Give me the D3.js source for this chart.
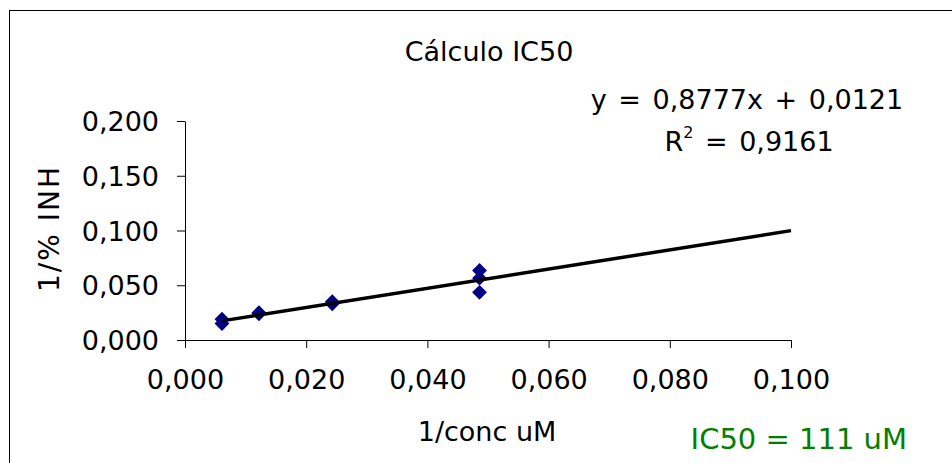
<!DOCTYPE html>
<html>
<head>
<meta charset="utf-8">
<script src="https://cdn.jsdelivr.net/npm/d3@7"></script>
<style>
  body { margin: 0; background: #fff; }
  svg text { font-family: "DejaVu Sans", Verdana, sans-serif; fill: #000; }
</style>
</head>
<body>
<div id="chart"></div>
<script>
// values
const concInv = [0.0061, 0.0061, 0.0122, 0.0122, 0.0243, 0.0243, 0.0486, 0.0486, 0.0486];
const inhInv  = [0.0150, 0.0190, 0.0240, 0.0250, 0.0330, 0.0350, 0.0635, 0.0565, 0.0435];
const xTicks = [0, 0.02, 0.04, 0.06, 0.08, 0.1];
const yTicks = [0, 0.05, 0.1, 0.15, 0.2];
const slope = 0.8777, intercept = 0.0121, rSquared = 0.9161;
const trendEnd = 0.1;

const W = 952, H = 463;
const margin = { top: 121, right: 161, bottom: 123, left: 185 },
      width = W - margin.left - margin.right,
      height = H - margin.top - margin.bottom;

const comma = v => d3.format(".3f")(v).replace(".", ",");

const svg = d3.select("#chart").append("svg")
    .attr("width", W)
    .attr("height", H);

// chart frame (right and bottom edges fall outside the picture)
svg.append("rect")
    .attr("x", 9.5).attr("y", 10.5)
    .attr("width", 1000).attr("height", 1000)
    .attr("fill", "none")
    .attr("stroke", "#000")
    .attr("stroke-width", 1);

const g = svg.append("g")
    .attr("transform", `translate(${margin.left},${margin.top})`);

const x = d3.scaleLinear().domain([0, 0.1]).range([0, width]);
const y = d3.scaleLinear().domain([0, 0.2]).range([height, 0]);

// axes
const xAxis = g.append("g")
    .attr("transform", `translate(0,${height})`)
    .call(d3.axisBottom(x).tickValues(xTicks).tickFormat(comma).tickSizeInner(8).tickSizeOuter(0).tickPadding(22));

const yAxis = g.append("g")
    .call(d3.axisLeft(y).tickValues(yTicks).tickFormat(comma).tickSizeInner(8).tickSizeOuter(0).tickPadding(18));

[xAxis, yAxis].forEach(a => {
    a.select(".domain").attr("stroke", "#000");
    a.selectAll(".tick line").attr("stroke", "#000");
    a.selectAll(".tick text").attr("font-size", 27).attr("fill", "#000");
});
yAxis.selectAll(".tick text").attr("dy", "0.36em");

// trend line
const x0 = d3.min(concInv);
const trend = g.append("line")
    .attr("x1", x(x0)).attr("y1", y(slope * x0 + intercept))
    .attr("x2", x(trendEnd)).attr("y2", y(slope * trendEnd + intercept))
    .attr("stroke", "#000")
    .attr("stroke-width", 3.5);

// points
const pts = concInv.map((c, i) => ({ x: c, y: inhInv[i] }));
g.selectAll(".pt")
    .data(pts)
    .enter()
    .append("path")
    .attr("class", "pt")
    .attr("transform", d => `translate(${x(d.x)},${y(d.y)})`)
    .attr("d", d3.symbol(d3.symbolDiamond2, 140))
    .attr("fill", "#000080");

// the trend line sits above the markers in the reference
trend.raise();

// titles
svg.append("text")
    .attr("x", 489).attr("y", 61)
    .attr("text-anchor", "middle")
    .attr("font-size", 27)
    .text("Cálculo IC50");

svg.append("text")
    .attr("x", 487).attr("y", 441)
    .attr("text-anchor", "middle")
    .attr("font-size", 27)
    .text("1/conc uM");

svg.append("text")
    .attr("transform", `translate(59,${margin.top + height / 2 - 2}) rotate(-90)`)
    .attr("text-anchor", "middle")
    .attr("font-size", 28)
    .attr("letter-spacing", 2)
    .text("1/% INH");

// regression label
const eq = svg.append("g").attr("font-size", 27);
eq.append("text")
    .attr("x", 747).attr("y", 109)
    .attr("text-anchor", "middle")
    .attr("word-spacing", 3)
    .text(`y = ${String(slope).replace(".", ",")}x + ${String(intercept).replace(".", ",")}`);
const r2 = eq.append("text")
    .attr("x", 749).attr("y", 151)
    .attr("text-anchor", "middle")
    .attr("word-spacing", 3);
r2.append("tspan").text("R");
r2.append("tspan").attr("font-size", 16).attr("dy", -13).text("2");
r2.append("tspan").attr("dy", 13).text(` = ${String(rSquared).replace(".", ",")}`);

// IC50 note
svg.append("text")
    .attr("x", 907).attr("y", 449)
    .attr("text-anchor", "end")
    .attr("font-size", 29)
    .style("fill", "#008000")
    .text("IC50 = 111 uM");
</script>
</body>
</html>
